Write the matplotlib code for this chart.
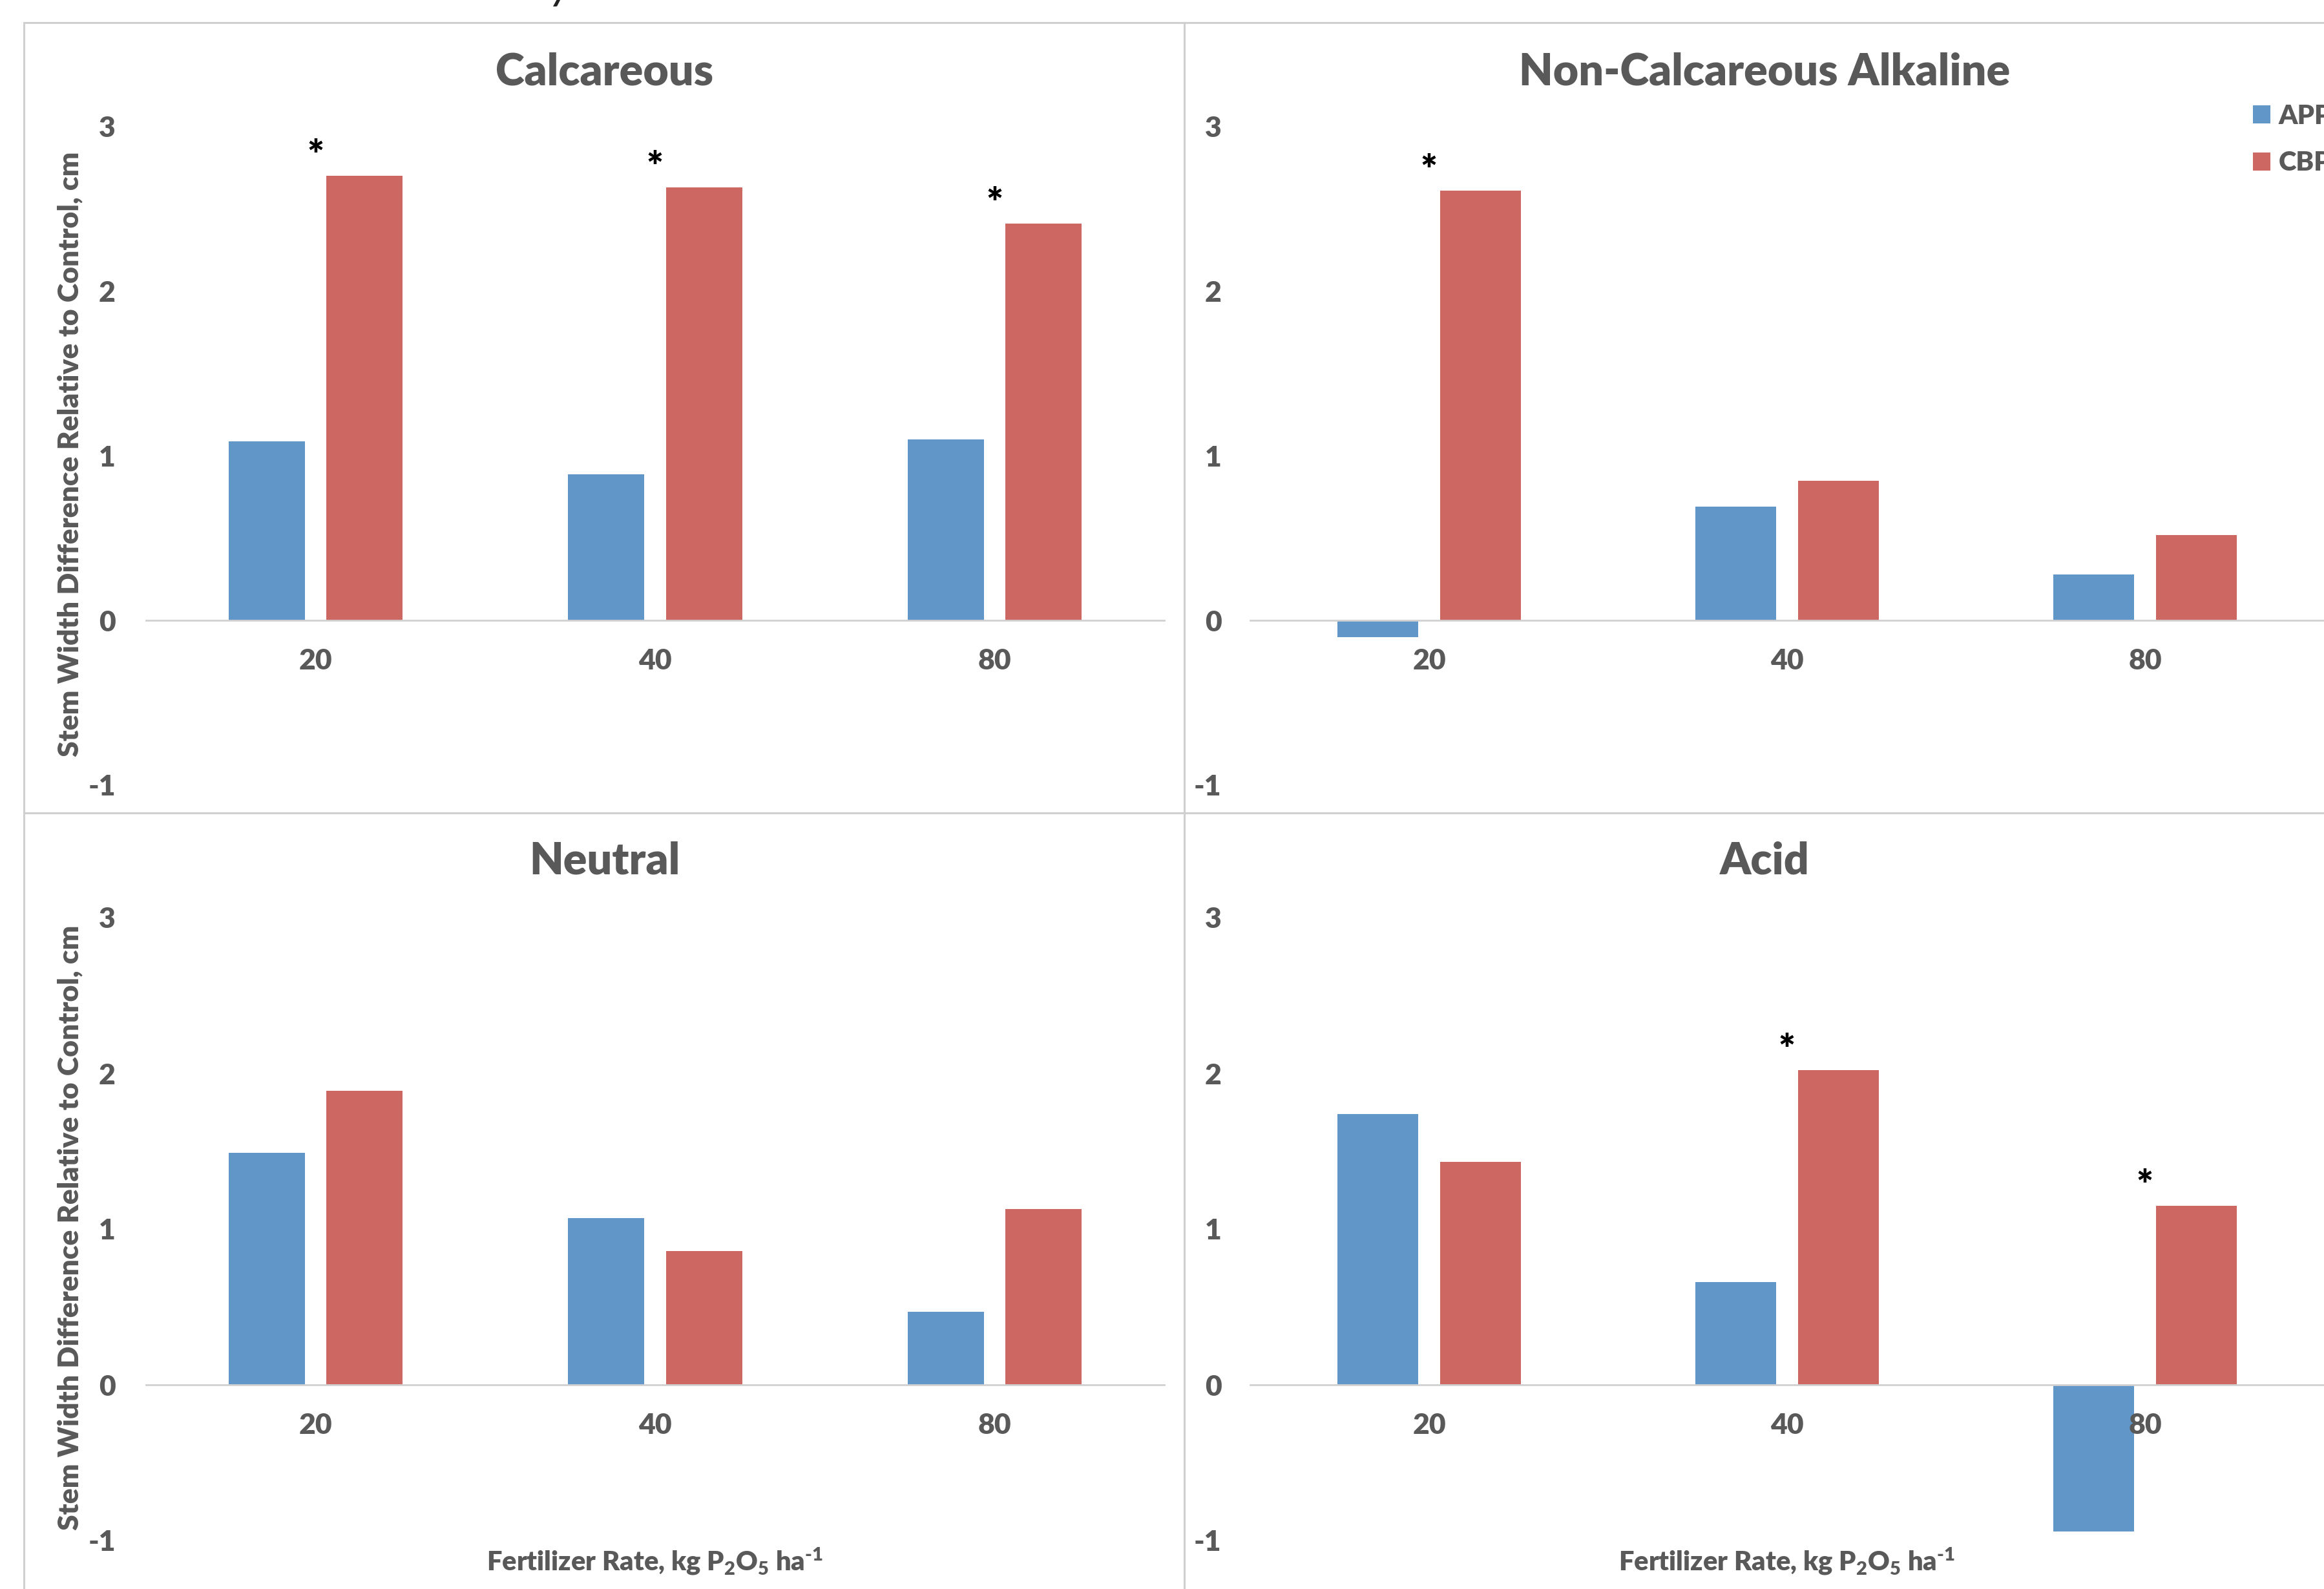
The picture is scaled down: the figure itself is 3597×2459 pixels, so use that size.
import matplotlib
matplotlib.use("Agg")
import matplotlib.pyplot as plt
from matplotlib.patches import Rectangle

WEIGHT = 'heavy'

plt.rcParams['font.family'] = ['Lato', 'DejaVu Sans']
plt.rcParams['font.weight'] = WEIGHT
plt.rcParams['axes.unicode_minus'] = False
plt.rcParams['mathtext.fontset'] = 'custom'
plt.rcParams['mathtext.rm'] = 'Lato:' + WEIGHT
plt.rcParams['mathtext.it'] = 'Lato:' + WEIGHT
plt.rcParams['mathtext.bf'] = 'Lato:' + WEIGHT
plt.rcParams['mathtext.default'] = 'rm'

# data
rates = ['20', '40', '80']
soils = ['Calcareous', 'Non-Calcareous Alkaline', 'Neutral', 'Acid']
app = [
    [1.09, 0.89, 1.10],
    [-0.10, 0.69, 0.28],
    [1.49, 1.07, 0.47],
    [1.74, 0.66, -0.94],
]
cbp = [
    [2.70, 2.63, 2.41],
    [2.61, 0.85, 0.52],
    [1.89, 0.86, 1.13],
    [1.43, 2.02, 1.15],
]
# significant CBP bars (asterisk)
signif = [
    [True, True, True],
    [True, False, False],
    [False, False, False],
    [False, True, True],
]

BLUE = '#6096C8'
RED = '#CD6761'
GREY = '#595959'
LINE = '#D0D0D0'

W, H = 3598, 2459
fig = plt.figure(figsize=(W / 100, H / 100), dpi=100)


def fx(px):
    return px / W


def fy(py):
    return 1 - py / H


# chart frames (each panel was its own Excel chart)
frames = [(37, 35, 1833, 1258), (1833, 35, 3650, 1258),
          (37, 1258, 1833, 2520), (1833, 1258, 3650, 2520)]
for x0, y0, x1, y1 in frames:
    fig.patches.append(Rectangle((fx(x0), fy(y1)), fx(x1 - x0), (y1 - y0) / H,
                                 transform=fig.transFigure, fill=False,
                                 edgecolor=LINE, linewidth=2.2))

# axes boxes in pixels: left, right, top(y=3), bottom(y=-1)
boxes = [(226, 1802, 196, 1215), (1935, 3597, 196, 1215),
         (226, 1802, 1420, 2384), (1935, 3597, 1420, 2384)]
title_pos = [(936, 112), (2731, 112), (936, 1333), (2731, 1333)]

width = 0.225
off = 0.144
x = list(range(len(rates)))

axes = []
for i, (l, r, t, b) in enumerate(boxes):
    ax = fig.add_axes([fx(l), fy(b), fx(r - l), (b - t) / H])
    axes.append(ax)
    ax.bar([v - off for v in x], app[i], width, color=BLUE, label='APP')
    ax.bar([v + off for v in x], cbp[i], width, color=RED, label='CBP')
    for j, s in enumerate(signif[i]):
        if s:
            ax.annotate('*', (x[j], cbp[i][j]), xytext=(0, 8),
                        textcoords='offset points', ha='center',
                        va='baseline', fontsize=44, fontweight=WEIGHT,
                        color='black')
    ax.set_xlim(-0.5, 2.5)
    ax.set_ylim(-1, 3)
    ax.set_yticks([-1, 0, 1, 2, 3])
    ax.set_xticks(x)
    ax.set_xticklabels(rates)
    for sp in ['top', 'right', 'left']:
        ax.spines[sp].set_visible(False)
    ax.spines['bottom'].set_position(('data', 0))
    ax.spines['bottom'].set_color(LINE)
    ax.spines['bottom'].set_linewidth(2.0)
    ax.tick_params(axis='both', length=0, labelsize=32, labelcolor=GREY)
    ax.tick_params(axis='x', pad=31)
    ax.tick_params(axis='y', pad=34 if i % 2 == 0 else 32)
    plt.setp(ax.get_xticklabels() + ax.get_yticklabels(), fontweight=WEIGHT)
    ax.patch.set_visible(False)
    tx, ty = title_pos[i]
    fig.text(fx(tx), fy(ty), soils[i], ha='center', va='center',
             fontsize=49, fontweight=WEIGHT, color=GREY)

# y labels (left column only)
for ty in [703, 1900]:
    fig.text(fx(108), fy(ty), 'Stem Width Difference Relative to Control, cm',
             rotation=90, ha='center', va='center', fontsize=32,
             fontweight=WEIGHT, color=GREY)

# x labels (bottom row)
for cx in [1014, 2766]:
    fig.text(fx(cx), fy(2416), r'Fertilizer Rate, kg P$_2$O$_5$ ha$^{\text{-}1}$',
             ha='center', va='center', fontsize=30, color=GREY)

axes[1].legend(loc='upper left', bbox_to_anchor=(fx(3466), fy(140)),
               bbox_transform=fig.transFigure, frameon=False,
               prop={'size': 30, 'weight': WEIGHT},
               labelcolor=GREY, handlelength=0.65, handleheight=0.65,
               handletextpad=0.3, borderpad=0, labelspacing=0.83)

# cut-off text at the very top of the crop
fig.text(fx(852), fy(-2), 'y', fontsize=50, fontstyle='italic',
         fontweight='normal', color='#222222', va='baseline')

fig.savefig('out.png', dpi=100)
